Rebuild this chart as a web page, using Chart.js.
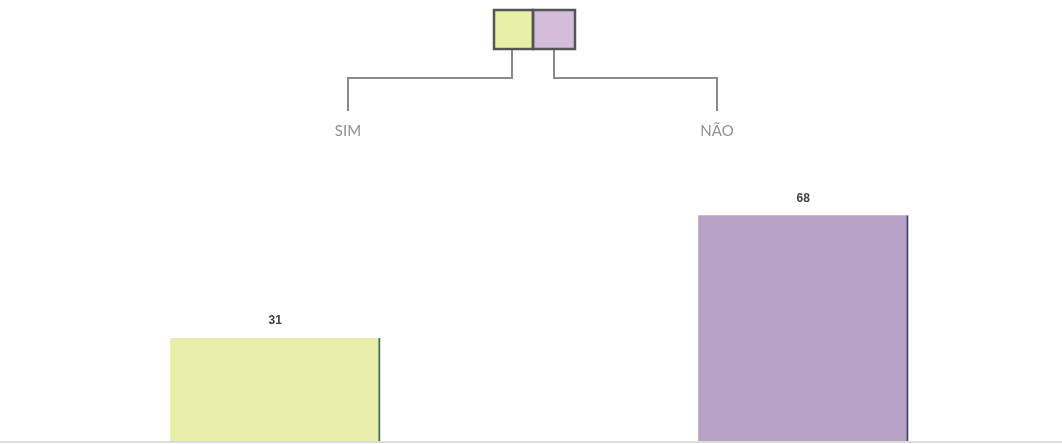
<!DOCTYPE html>
<html>
<head>
<meta charset="utf-8">
<script src="https://cdn.jsdelivr.net/npm/chart.js@4"></script>
<style>
body{margin:0;background:#fff;}
</style>
</head>
<body>
<canvas id="grafico" width="1062" height="444"></canvas>
<script>

const categorias = ["SIM", "NÃO"];

const valores = [31, 68];

const cores = ["#e8eeaa", "#b8a3c6"];

const coresLegenda = ["#e8f0a8", "#d4bcdb"];

const bordas = ["#3f6e52", "#3d4a66"];


// legenda em cima com os conectores
const legendaTopo = {
  id: "legendaTopo",
  afterDraw(chart){
    const ctx = chart.ctx;
    const caixas = [
      {x:494, w:39, liga:512, ate:348},
      {x:533, w:42, liga:554, ate:717}
    ];
    ctx.save();
    caixas.forEach((c, i) => {
      ctx.strokeStyle = "#8a8a8a";
      ctx.lineWidth = 2;
      ctx.beginPath();
      ctx.moveTo(c.liga, 49);
      ctx.lineTo(c.liga, 78);
      ctx.lineTo(c.ate, 78);
      ctx.lineTo(c.ate, 111);
      ctx.stroke();

      ctx.fillStyle = coresLegenda[i];
      ctx.fillRect(c.x, 10, c.w, 39);

      ctx.fillStyle = "#909090";
      ctx.font = "15px Lato";
      ctx.textAlign = "center";
      ctx.textBaseline = "middle";
      ctx.fillText(categorias[i], c.ate, 131);
    });
    ctx.strokeStyle = "#555";
    ctx.lineWidth = 2.5;
    ctx.strokeRect(494, 10, 39, 39);
    ctx.strokeRect(533, 10, 42, 39);
    ctx.restore();
  }
};


// linha de base e valores em cima das barras
const rotulos = {
  id: "rotulos",
  afterDatasetsDraw(chart){
    const ctx = chart.ctx;
    const area = chart.chartArea;
    const meta = chart.getDatasetMeta(0);
    ctx.save();
    ctx.strokeStyle = "#dcdcdc";
    ctx.lineWidth = 2;
    ctx.beginPath();
    ctx.moveTo(0, area.bottom + 1);
    ctx.lineTo(chart.width, area.bottom + 1);
    ctx.stroke();

    ctx.fillStyle = "#404040";
    ctx.font = "bold 12px 'Liberation Sans'";
    ctx.textAlign = "center";
    ctx.textBaseline = "middle";
    meta.data.forEach((bar, i) => {
      ctx.fillText(valores[i], bar.x, bar.y - 17);
    });
    ctx.restore();
  }
};


new Chart(
document.getElementById("grafico"),
{
  type:"bar",
  data:{
    labels: categorias,
    datasets:[{
      data: valores.map((v, i) => ({x:i, y:v})),
      backgroundColor: cores,
      borderColor: bordas,
      borderWidth: {top:0, right:2, bottom:0, left:0},
      borderSkipped: false,
      barThickness: 210
    }]
  },
  options:{
    responsive:false,
    animation:false,
    layout:{
      padding:{top:109, left:0, right:0, bottom:3}
    },
    plugins:{
      legend:{display:false},
      tooltip:{enabled:false}
    },
    scales:{
      y:{
        display:false,
        min:0,
        max:100
      },
      x:{
        type:"linear",
        display:false,
        offset:false,
        min:-0.521,
        max:1.49
      }
    }
  },
  plugins:[legendaTopo, rotulos]
}
);

</script>
</body>
</html>
